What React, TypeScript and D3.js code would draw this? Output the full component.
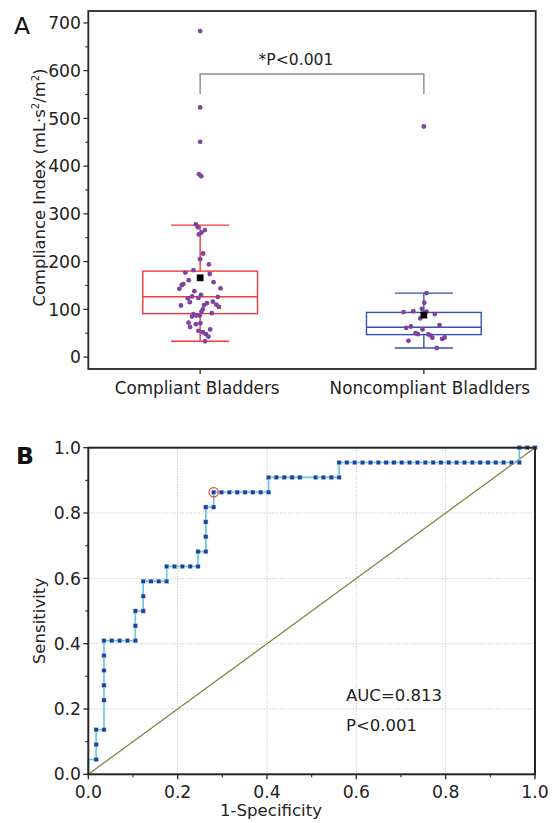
import React from 'react';
import * as d3 from 'd3';

// Panel A: compliance index by group
const categories = ['Compliant Bladders', 'Noncompliant Bladlders'];
const whiskerLow = [33, 19];
const q1 = [91, 47];
const median = [126.5, 62.5];
const q3 = [180, 93.5];
const whiskerHigh = [276.5, 134];
const means = [166, 88];

const compliantValues = [
  683, 523, 451, 383, 379, 278, 272, 266, 261, 257, 217, 205, 194, 182, 177, 174,
  161, 153, 151, 157, 143, 144, 138, 130, 127, 124, 123, 126, 115, 108, 109, 113,
  116, 110, 105, 100, 95, 92, 90, 85, 87, 87, 71, 69, 72, 63, 55, 58, 52, 48, 43, 33,
];
const compliantJitter = [
  0, 0, 0, -0.005, 0.005, -0.019, -0.01, 0.021, 0.006, -0.006, 0.013, 0, 0.039, -0.03, -0.066, 0.043,
  -0.051, -0.075, -0.082, 0.06, -0.093, 0.091, -0.026, 0.004, -0.036, -0.008, -0.055, 0.079, -0.046, -0.086, 0.017, 0.03,
  0.057, 0.072, 0.084, 0.012, 0.006, 0.052, -0.03, -0.036, -0.018, -0.002, 0.001, -0.019, -0.052, -0.045, -0.008, 0.045, 0.012, 0.026, 0.037, 0.022,
];
const noncompliantValues = [
  483, 134, 114, 101, 94, 96, 95, 90, 81, 67, 61, 64, 58, 50, 48, 47.5, 45.5, 40.5, 34, 38, 41, 19,
];
const noncompliantJitter = [
  0, 0.012, 0.002, -0.009, -0.091, -0.047, 0.012, 0.049, -0.016, 0.07, -0.079, -0.058, -0.006, -0.037, -0.027, 0.02, 0.03, 0.038, -0.069, 0.082, 0.093, 0.058,
];
const yTicksA = [0, 100, 200, 300, 400, 500, 600, 700];
const yMinorA = [50, 150, 250, 350, 450, 550, 650];

// Panel B: ROC curve, counts of false / true positives (57 compliant, 22 noncompliant)
const nNeg = 57;
const nPos = 22;
const rocFP = [
  0, 0, 1, 1, 1, 2, 2, 2, 2, 2, 2, 3, 4, 5, 6, 6, 6, 7, 7, 7, 8, 9, 10, 10, 11, 12, 13, 14, 14,
  15, 15, 15, 15, 16, 16, 17, 18, 19, 20, 21, 22, 23, 23, 24, 25, 26, 27, 29, 30, 31, 32, 32,
  33, 34, 35, 36, 37, 38, 39, 40, 41, 42, 43, 44, 45, 46, 47, 48, 49, 50, 51, 52, 53, 54, 55, 55, 56, 57,
];
const rocTP = [
  0, 1, 1, 2, 3, 3, 5, 6, 7, 8, 9, 9, 9, 9, 9, 10, 11, 11, 12, 13, 13, 13, 13, 14, 14, 14, 14, 14, 15,
  15, 16, 17, 18, 18, 19, 19, 19, 19, 19, 19, 19, 19, 20, 20, 20, 20, 20, 20, 20, 20, 20, 21,
  21, 21, 21, 21, 21, 21, 21, 21, 21, 21, 21, 21, 21, 21, 21, 21, 21, 21, 21, 21, 21, 21, 21, 22, 22, 22,
];
const cutoffIndex = 34; // circled optimal point
const ticksB = [0, 0.2, 0.4, 0.6, 0.8, 1.0];
const minorB = [0.1, 0.3, 0.5, 0.7, 0.9];
const gridB = [0.2, 0.4, 0.6, 0.8];
const aucText = 'AUC=0.813';
const pText = 'P<0.001';

const font = '"DejaVu Sans", sans-serif';
const axisColor = '#262626';
const dotColor = '#7d45a0';
const boxColors = ['#f23a3a', '#3552b0'];

const App: React.FC = () => {
  const xA = d3.scaleLinear().domain([0.5, 2.5]).range([88.3, 535.7]);
  const yA = d3.scaleLinear().domain([-25, 725]).range([369, 11]);
  const xB = d3.scaleLinear().domain([0, 1]).range([88.3, 535]);
  const yB = d3.scaleLinear().domain([0, 1]).range([774.3, 447.7]);

  const boxHalf = 0.2565;
  const capHalf = 0.13;
  const groups = [
    { values: compliantValues, jitter: compliantJitter },
    { values: noncompliantValues, jitter: noncompliantJitter },
  ];

  const rocPts = rocFP.map((fp, i) => [fp / nNeg, rocTP[i] / nPos] as [number, number]);
  const rocLine = d3.line<[number, number]>().x(d => xB(d[0])).y(d => yB(d[1]))(rocPts) || '';

  const bracketY = yA(593);
  const bracketEnd = yA(551);

  return (
    <svg width={553} height={823} style={{ position: 'absolute', left: 0, top: 0, background: '#fff' }}
      fontFamily={font}>
      {/* ---------- Panel A ---------- */}
      <text x={14} y={34} fontSize={23.5} fill="#111">A</text>

      {/* y ticks */}
      {yTicksA.map(t => (
        <g key={'ya' + t}>
          <line x1={xA(0.5) - 5} x2={xA(0.5)} y1={yA(t)} y2={yA(t)} stroke={axisColor} strokeWidth={1.2} />
          <text x={81} y={yA(t)} dy="0.36em" textAnchor="end" fontSize={17.2} fill="#222">{t}</text>
        </g>
      ))}
      {yMinorA.map(t => (
        <line key={'yma' + t} x1={xA(0.5) - 3} x2={xA(0.5)} y1={yA(t)} y2={yA(t)} stroke={axisColor} strokeWidth={1.1} />
      ))}
      <text transform={`translate(45,${187.5}) rotate(-90)`} textAnchor="middle" fontSize={16.4} fill="#222">
        Compliance Index (mL·s<tspan dy={-6} fontSize={10}>2</tspan><tspan dy={6}>/m</tspan><tspan dy={-6} fontSize={10}>2</tspan><tspan dy={6}>)</tspan>
      </text>

      {/* x ticks + category labels */}
      {categories.map((c, i) => (
        <g key={c}>
          <line x1={xA(i + 1)} x2={xA(i + 1)} y1={369} y2={374} stroke={axisColor} strokeWidth={1.3} />
          <text x={xA(i + 1) + (i === 0 ? -3 : 6)} y={394.3} textAnchor="middle" fontSize={16.8} fill="#222">{c}</text>
        </g>
      ))}

      {/* boxes */}
      {categories.map((c, i) => {
        const cx = i + 1;
        const col = boxColors[i];
        return (
          <g key={'box' + c} stroke={col} strokeWidth={1.4} fill="none">
            <rect x={xA(cx - boxHalf)} y={yA(q3[i])} width={xA(cx + boxHalf) - xA(cx - boxHalf)}
              height={yA(q1[i]) - yA(q3[i])} />
            <line x1={xA(cx - boxHalf)} x2={xA(cx + boxHalf)} y1={yA(median[i])} y2={yA(median[i])} />
            <line x1={xA(cx)} x2={xA(cx)} y1={yA(q3[i])} y2={yA(whiskerHigh[i])} />
            <line x1={xA(cx)} x2={xA(cx)} y1={yA(q1[i])} y2={yA(whiskerLow[i])} />
            <line x1={xA(cx - capHalf)} x2={xA(cx + capHalf)} y1={yA(whiskerHigh[i])} y2={yA(whiskerHigh[i])} />
            <line x1={xA(cx - capHalf)} x2={xA(cx + capHalf)} y1={yA(whiskerLow[i])} y2={yA(whiskerLow[i])} />
          </g>
        );
      })}

      {/* data points */}
      {groups.map((g, gi) =>
        g.values.map((v, j) => (
          <circle key={`p${gi}-${j}`} cx={xA(gi + 1 + g.jitter[j])} cy={yA(v)} r={2.4} fill={dotColor} />
        ))
      )}

      {/* means */}
      {means.map((m, i) => (
        <rect key={'m' + i} x={xA(i + 1) - 3.4} y={yA(m) - 3.4} width={6.8} height={6.8} fill="#000" />
      ))}

      {/* significance bracket */}
      <path d={`M${xA(1)},${bracketEnd}V${bracketY}H${xA(2)}V${bracketEnd}`} fill="none" stroke="#8a8a8a" strokeWidth={1.4} />
      <text x={296} y={65} textAnchor="middle" fontSize={15.6} fill="#222">*P&lt;0.001</text>

      {/* frame A */}
      <rect x={xA(0.5)} y={yA(725)} width={xA(2.5) - xA(0.5)} height={yA(-25) - yA(725)}
        fill="none" stroke={axisColor} strokeWidth={1.8} />

      {/* ---------- Panel B ---------- */}
      <text x={16} y={464} fontSize={23.5} fontWeight="bold" fill="#111">B</text>

      {/* grid */}
      {gridB.map(g => (
        <g key={'g' + g} stroke="#c4c4c4" strokeWidth={1} strokeDasharray="1.2,1.5">
          <line x1={xB(g)} x2={xB(g)} y1={yB(0)} y2={yB(1)} />
          <line x1={xB(0)} x2={xB(1)} y1={yB(g)} y2={yB(g)} />
        </g>
      ))}

      {/* reference diagonal */}
      <line x1={xB(0)} y1={yB(0)} x2={xB(1)} y2={yB(1)} stroke="#7d7d3c" strokeWidth={1.2} />

      {/* ROC curve */}
      <path d={rocLine} fill="none" stroke="#62c9d8" strokeWidth={1.6} />
      {rocPts.filter(p => p[0] > 0).map((p, i) => (
        <rect key={'r' + i} x={xB(p[0]) - 2.1} y={yB(p[1]) - 2.1} width={4.2} height={4.2}
          fill="#1f3f9c" stroke="#a9c4ea" strokeWidth={0.4} />
      ))}
      <circle cx={xB(rocPts[cutoffIndex][0])} cy={yB(rocPts[cutoffIndex][1])} r={4.6}
        fill="none" stroke="#e8452c" strokeWidth={1.2} />

      {/* ticks B */}
      {ticksB.map(t => (
        <g key={'tb' + t}>
          <line x1={xB(t)} x2={xB(t)} y1={yB(0)} y2={yB(0) + 5} stroke={axisColor} strokeWidth={1.3} />
          <text x={xB(t)} y={797.5} textAnchor="middle" fontSize={17.2} fill="#222">{t.toFixed(1)}</text>
          <line x1={xB(0) - 5} x2={xB(0)} y1={yB(t)} y2={yB(t)} stroke={axisColor} strokeWidth={1.3} />
          <text x={81} y={yB(t)} dy="0.36em" textAnchor="end" fontSize={17.2} fill="#222">{t.toFixed(1)}</text>
        </g>
      ))}
      {minorB.map(t => (
        <g key={'mb' + t} stroke={axisColor} strokeWidth={1.1}>
          <line x1={xB(t)} x2={xB(t)} y1={yB(0)} y2={yB(0) + 3} />
          <line x1={xB(0) - 3} x2={xB(0)} y1={yB(t)} y2={yB(t)} />
        </g>
      ))}

      <text x={271} y={816} textAnchor="middle" fontSize={16.6} fill="#222">1-Specificity</text>
      <text transform={`translate(44.5,621) rotate(-90)`} textAnchor="middle" fontSize={16.6} fill="#222">Sensitivity</text>

      <text x={346} y={701} fontSize={16.5} fill="#222">{aucText}</text>
      <text x={346} y={731} fontSize={16.5} fill="#222">{pText}</text>

      {/* frame B */}
      <rect x={xB(0)} y={yB(1)} width={xB(1) - xB(0)} height={yB(0) - yB(1)}
        fill="none" stroke={axisColor} strokeWidth={2} />
    </svg>
  );
};

export default App;
